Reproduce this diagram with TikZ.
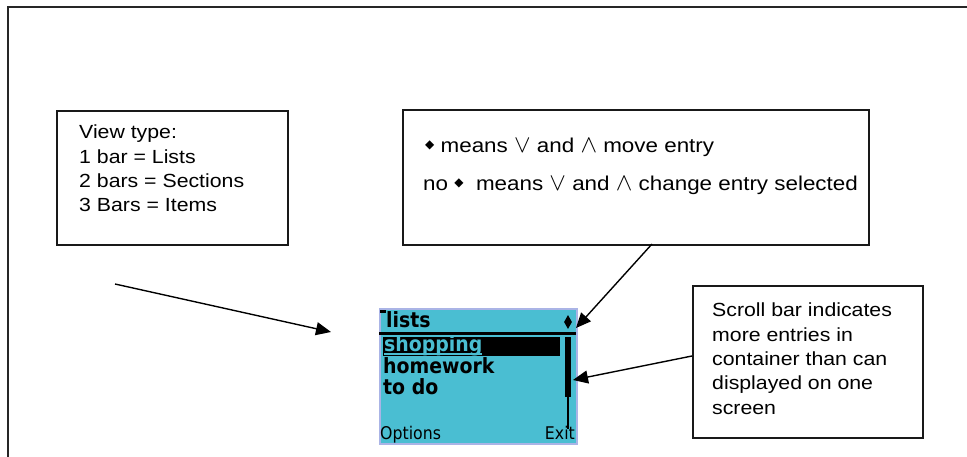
\documentclass[tikz,border=0pt]{standalone}
\usepackage{fontspec}
\setmainfont{Liberation Sans}
\newfontfamily\boxfont[FakeStretch=1.12]{Liberation Sans}
\newfontfamily\symfont{DejaVu Sans}
\newfontfamily\lcdfont[FakeStretch=0.9]{DejaVu Sans}
\usetikzlibrary{arrows.meta,shapes.geometric}
\definecolor{lcd}{RGB}{74,190,210}
\definecolor{lcdedge}{RGB}{170,180,230}
\tikzset{
  frame/.style={draw=black!85,line width=1.5pt},
  infobox/.style={draw=black!90,line width=1.8pt,fill=white,anchor=north west,inner sep=0pt},
  boxtext/.style={anchor=north west,inner sep=0pt,align=left,font=\boxfont\fontsize{19}{24.3}\selectfont},
  lineText/.style={anchor=base west,inner sep=0pt,font=\boxfont\fontsize{20}{24.3}\selectfont},
  pointer/.style={draw=black,line width=1.4pt,-{Triangle[length=15pt,width=13pt]}},
  lcdbold/.style={inner sep=0pt,font=\lcdfont\bfseries\fontsize{21}{21}\selectfont},
  lcdsoft/.style={inner sep=0pt,font=\lcdfont\fontsize{17.5}{17.5}\selectfont},
}
\newcommand{\dmd}{\raisebox{4pt}{\symfont\fontsize{12}{12}\selectfont ◆}}
\newcommand{\orsym}{{\fontsize{27}{27}\selectfont$\vee$}}
\newcommand{\andsym}{{\fontsize{27}{27}\selectfont$\wedge$}}
\begin{document}
\begin{tikzpicture}[x=1pt,y=-1pt]
\useasboundingbox (0,0) rectangle (967,457);
\fill[white] (0,0) rectangle (967,457);
% outer frame
\coordinate (fr1) at (967,7);
\coordinate (fr2) at (8,7);
\coordinate (fr3) at (8,457);
\draw[frame] (fr1) -- (fr2) -- (fr3);

% boxes
\node[infobox,minimum width=231pt,minimum height=134pt] (view) at (56,110) {};
\node[boxtext] (viewtxt) at (79,125) {View type:\\1 bar = Lists\\2 bars = Sections\\3 Bars = Items};

\node[infobox,minimum width=466pt,minimum height=135pt] (mid) at (402,109) {};
\node[lineText] (mid1) at (425,153) {\dmd\ means \orsym\ and \andsym\ move entry};
\node[lineText] (mid2) at (423,191) {no \dmd\ \ means \orsym\ and \andsym\ change entry selected};

\node[infobox,minimum width=230pt,minimum height=152pt] (scroll) at (692,285) {};
\node[boxtext] (scrolltxt) at (712,303) {Scroll bar indicates\\more entries in\\container than can\\displayed on one\\screen};

% phone screen
\node[draw=lcdedge,fill=lcd,line width=2pt,anchor=north west,minimum width=197pt,minimum height=135pt,inner sep=0pt] (scr) at (379,308) {};
\fill (380,310) rectangle (386,313);
\node[lcdbold,anchor=base west] (title) at (386,327) {lists};
\node[diamond,fill=black,inner sep=0pt,minimum width=8pt,minimum height=14pt] (dia) at (568,322) {};
\fill (379,332) rectangle (576,334.5);
\fill (383,337) rectangle (560,356);
\node[lcdbold,anchor=base west,text=lcd] (shop) at (384,351) {shopping};
\fill[lcd] (384,353) rectangle (482,354.5);
\node[lcdbold,anchor=base west] (home) at (383,373) {homework};
\node[lcdbold,anchor=base west] (todo) at (383,394) {to do};
\fill (565,337) rectangle (571,397);
\draw[line width=1.5pt] (568,397) -- (568,429);
\node[lcdsoft,anchor=base west] (opt) at (380,439) {Options};
\node[lcdsoft,anchor=base east] (exit) at (575,439) {Exit};

% arrows
\coordinate (a1s) at (115,284);
\coordinate (a1e) at (331,332);
\draw[pointer] (a1s) -- (a1e);
\coordinate (a2s) at (652,244);
\coordinate (a2e) at (576,328);
\draw[pointer] (a2s) -- (a2e);
\coordinate (a3s) at (692,356);
\coordinate (a3e) at (573,380);
\draw[pointer] (a3s) -- (a3e);
\end{tikzpicture}
\end{document}
